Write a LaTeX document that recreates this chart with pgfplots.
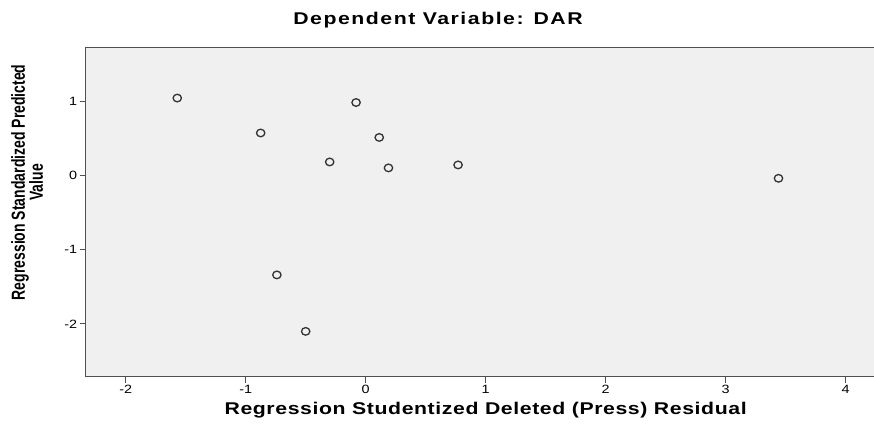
\documentclass[border=0pt]{standalone}
\usepackage{pgfplots}
\pgfplotsset{compat=1.18}
\usepackage{fontspec}
\setmainfont{Liberation Sans}
\newfontfamily\titlefont[FakeStretch=1.25,LetterSpace=9]{Liberation Sans}
\newfontfamily\xlabfont[FakeStretch=1.25,LetterSpace=3.5]{Liberation Sans}
\newfontfamily\tickfont[FakeStretch=1.2]{Liberation Sans}
\definecolor{bgc}{HTML}{F0F0F0}
\definecolor{framec}{HTML}{505050}
\definecolor{markc}{HTML}{333333}
\begin{document}
\begin{tikzpicture}
\path[use as bounding box] (-85.7pt,-57.3pt) rectangle (788.3pt,376.7pt);
\begin{axis}[
  at={(0pt,0pt)}, anchor=south west,
  scale only axis, width=808pt, height=329.4pt,
  xmin=-2.333, xmax=4.4, ymin=-2.71, ymax=1.723,
  axis background/.style={fill=bgc},
  axis line style={draw=framec, line width=1.2pt},
  xtick={-2,-1,0,1,2,3,4}, xticklabels={-2,-1,0,1,2,3,4},
  ytick={-2,-1,0,1}, yticklabels={-2,-1,0,1},
  tick align=outside, tick pos=left, major tick length=6pt,
  tick style={draw=framec, line width=1pt},
  ticklabel style={font=\fontsize{12}{12}\selectfont\tickfont, text=black},
  xticklabel style={yshift=1pt},
  yticklabel style={xshift=1pt},
  ylabel={\scalebox{1}[1.35]{\begin{tabular}{c}Regression Standardized Predicted\\[-1pt] Value\end{tabular}}},
  ylabel style={at={(axis description cs:-0.069,0.59)}, anchor=center, font=\fontsize{14}{14}\selectfont\bfseries},
  clip=false,
]
\addplot[only marks, mark=o, mark size=3.8pt, mark options={draw=markc, line width=1.3pt, xscale=1.1}] coordinates {
  (-1.57,1.04)
  (-0.08,0.98)
  (-0.875,0.57)
  (0.113,0.51)
  (-0.30,0.18)
  (0.19,0.10)
  (0.77,0.14)
  (3.44,-0.04)
  (-0.74,-1.34)
  (-0.50,-2.10)
};
\node[anchor=base, font=\fontsize{17}{17}\selectfont\titlefont\bfseries] at (axis description cs:0.436,1) [yshift=23pt] {Dependent Variable: DAR};
\node[anchor=base, font=\fontsize{17}{17}\selectfont\xlabfont\bfseries] at (axis description cs:0.495,0) [yshift=-37.3pt] {Regression Studentized Deleted (Press) Residual};
\end{axis}
\end{tikzpicture}
\end{document}
